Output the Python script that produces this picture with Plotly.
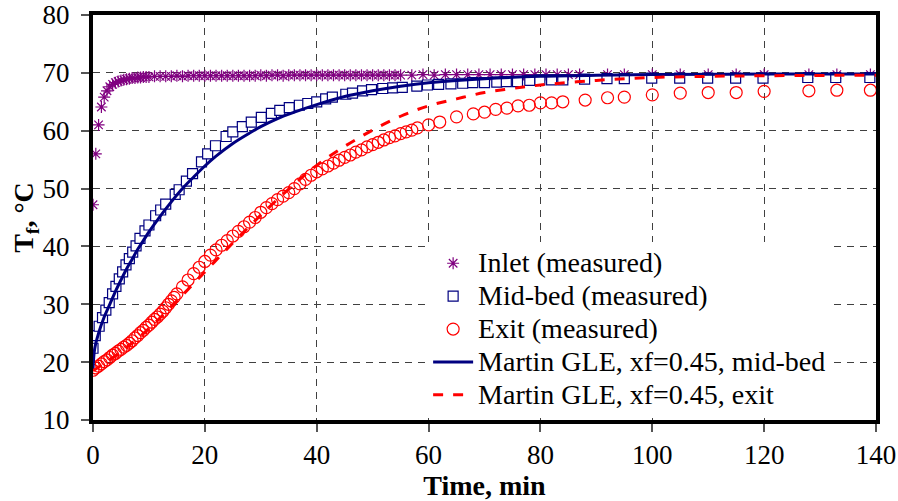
import plotly.graph_objects as go

# ---------------- data ----------------
inlet_t = [0, 0.5, 1, 1.5, 2, 2.5, 3, 3.5, 4, 4.5, 5, 5.5, 6, 6.5, 7, 7.5, 8, 8.5, 9, 9.5,
           10, 11, 12, 13, 14, 15, 16, 17, 18, 19, 20, 21, 22, 23, 24, 25, 26, 27, 28, 29,
           30, 31, 32, 33, 34, 35, 36, 37, 38, 39, 40, 41, 42, 43, 44, 45, 46, 47, 48, 49,
           50, 51, 52, 53, 54, 55, 57, 59, 61, 63, 65, 67, 69, 71, 73, 75, 77, 79, 81, 83,
           85, 87, 92, 95, 100, 105, 110, 115, 120, 128, 133, 139]
inlet_T = [47.2, 56.0, 61.0, 64.1, 65.8, 66.9, 67.6, 68.0, 68.3, 68.5, 68.7, 68.8, 68.9, 69.0, 69.1, 69.1, 69.2, 69.2, 69.3, 69.3,
           69.3, 69.4, 69.4, 69.4, 69.4, 69.5, 69.4, 69.5, 69.5, 69.5, 69.5, 69.5, 69.5, 69.5, 69.5, 69.5, 69.5, 69.5, 69.5, 69.5,
           69.6, 69.5, 69.6, 69.6, 69.5, 69.6, 69.6, 69.6, 69.6, 69.6, 69.6, 69.6, 69.6, 69.6, 69.6, 69.6, 69.6, 69.6, 69.6, 69.6,
           69.6, 69.6, 69.6, 69.6, 69.6, 69.6, 69.6, 69.7, 69.6, 69.7, 69.7, 69.7, 69.7, 69.7, 69.7, 69.7, 69.7, 69.7, 69.7, 69.7,
           69.7, 69.7, 69.7, 69.7, 69.7, 69.7, 69.7, 69.7, 69.7, 69.7, 69.7, 69.7]

mid_t = [0, 0.4, 1.1, 1.7, 2.3, 2.9, 3.5, 4.1, 4.7, 5.3, 5.9, 6.5, 7.1, 7.7, 8.4, 9.3, 10, 11.2, 12.1, 13,
         14.7, 15.4, 16.7, 17.8, 19.4, 20.5, 21.9, 23.8, 25, 26.7, 28.3, 30.1, 31.9, 33.4, 35.1, 36.9, 38.4, 40, 41.6, 42.8,
         45.2, 46.4, 48.2, 49.8, 51.8, 53.6, 55.3, 57.9, 59.8, 61.8, 64, 66.1, 67.9, 70, 72.2, 73.9, 75.9, 78.1, 79.9, 82,
         84, 87.9, 91.9, 95, 99.9, 104.9, 109.9, 114.9, 119.8, 127.8, 132.8, 138.9]
mid_T = [22.4, 24.6, 26.2, 27.7, 29.0, 30.3, 31.8, 33.1, 34.4, 35.6, 36.8, 37.9, 39.0, 40.1, 41.4, 42.7, 43.7, 45.3, 46.3, 47.3,
         49.0, 49.8, 51.3, 52.6, 54.6, 56.0, 57.4, 59.0, 59.8, 60.7, 61.5, 62.3, 63.0, 63.5, 64.0, 64.4, 64.7, 65.0, 65.5, 65.8,
         66.3, 66.5, 66.9, 67.1, 67.3, 67.4, 67.5, 67.7, 67.9, 68.0, 68.1, 68.2, 68.3, 68.3, 68.4, 68.5, 68.5, 68.7, 68.8, 68.8,
         68.8, 68.9, 69.0, 69.0, 69.1, 69.1, 69.1, 69.1, 69.1, 69.2, 69.2, 69.2]

exit_t = [0, 0.5, 1, 1.5, 2, 2.5, 3, 3.5, 4, 4.5, 5, 5.5, 6, 6.5, 7, 7.5, 8, 8.5, 9, 9.5,
          10, 10.5, 11, 11.5, 12, 12.5, 13, 13.5, 14, 14.5, 15, 16, 17, 18, 19, 20, 21, 22, 23, 24,
          25, 26, 27, 28, 29, 30, 31, 32, 33, 34, 35, 36, 37, 38, 39, 40, 41, 42, 43, 44,
          45, 46, 47, 48, 49, 50, 51, 52, 53, 54, 55, 56, 57, 58, 60, 62, 65, 68, 70, 72,
          74, 76, 78, 80, 82, 84, 88, 92, 95, 100, 105, 110, 115, 120, 128, 133, 139]
exit_T = [18.6, 19.0, 19.3, 19.7, 20.1, 20.4, 20.8, 21.2, 21.5, 21.9, 22.2, 22.6, 22.9, 23.3, 23.7, 24.2, 24.6, 25.1, 25.5, 26.0,
          26.4, 26.9, 27.4, 27.8, 28.3, 28.8, 29.4, 30.0, 30.6, 31.2, 31.8, 33.0, 34.2, 35.3, 36.4, 37.4, 38.5, 39.4, 40.2, 41.0,
          41.8, 42.6, 43.4, 44.2, 45.0, 45.9, 46.7, 47.4, 48.1, 48.7, 49.3, 50.0, 50.8, 51.6, 52.3, 52.9, 53.4, 53.9, 54.4, 54.9,
          55.4, 55.8, 56.3, 56.7, 57.2, 57.6, 58.0, 58.4, 58.8, 59.1, 59.5, 59.8, 60.1, 60.5, 61.0, 61.5, 62.4, 62.9, 63.2, 63.7,
          63.9, 64.3, 64.4, 64.8, 64.8, 65.0, 65.3, 65.7, 65.8, 66.2, 66.5, 66.6, 66.6, 66.8, 66.9, 67.0, 67.0]

model_mid_t = [0, 0.3, 1, 2, 3, 4, 5, 6, 7, 8, 9, 10, 12, 14, 16, 18, 20, 22, 25, 28,
               30, 33, 36, 40, 45, 50, 55, 60, 70, 80, 90, 100, 120, 140]
model_mid_T = [18.8, 22.3, 25.0, 27.8, 30.0, 32.2, 34.2, 36.1, 37.8, 39.5, 41.0, 42.5, 45.2, 47.7, 50.0, 52.0, 53.9, 55.6, 57.8, 59.6,
               60.7, 62.1, 63.2, 64.5, 65.9, 66.9, 67.7, 68.3, 69.0, 69.4, 69.6, 69.7, 69.8, 69.8]

model_exit_t = [0, 5, 10, 15, 20, 25, 30, 35, 40, 45, 50, 55, 60, 65, 70, 75, 80, 90, 100, 110, 120, 140]
model_exit_T = [18.5, 21.8, 25.8, 30.6, 35.6, 40.6, 45.4, 49.9, 54.0, 57.3, 60.1, 62.5, 64.3, 65.5, 66.6, 67.3, 67.9, 68.7, 69.2, 69.4, 69.5, 69.6]

names = ["Inlet (measured)", "Mid-bed (measured)", "Exit (measured)",
         "Martin GLE, xf=0.45, mid-bed", "Martin GLE, xf=0.45, exit"]

FONT = "Liberation Serif"
PURPLE = "#800080"
NAVY = "#000080"
RED = "#FF0000"


def leg(s):
    return '<span style="font-size:28px">' + s + '</span>'


fig = go.Figure()
fig.add_trace(go.Scatter(x=inlet_t, y=inlet_T, mode="markers", name=leg(names[0]),
                         marker=dict(symbol="asterisk-open", size=10, color=PURPLE,
                                     line=dict(color=PURPLE, width=1.2))))
fig.add_trace(go.Scatter(x=mid_t, y=mid_T, mode="markers", name=leg(names[1]),
                         marker=dict(symbol="square", size=10, color="white",
                                     line=dict(color=NAVY, width=1.2))))
fig.add_trace(go.Scatter(x=exit_t, y=exit_T, mode="markers", name=leg(names[2]),
                         marker=dict(symbol="circle-open", size=12, color=RED,
                                     line=dict(color=RED, width=1.2))))
fig.add_trace(go.Scatter(x=model_mid_t, y=model_mid_T, mode="lines", name=leg(names[3]),
                         line=dict(color=NAVY, width=3, shape="spline")))
fig.add_trace(go.Scatter(x=model_exit_t, y=model_exit_T, mode="lines", name=leg(names[4]),
                         line=dict(color=RED, width=3, shape="spline", dash="10px,10px")))

axis_common = dict(
    showline=True, mirror=True, linewidth=4, linecolor="black",
    showgrid=True, gridcolor="#404040", gridwidth=1, griddash="7px,6px",
    ticks="outside", ticklen=8, tickwidth=1.5, tickcolor="#555555",
    tickfont=dict(family=FONT, size=27, color="black"),
    zeroline=False, automargin=False, ticklabeloverflow="allow",
)

fig.update_xaxes(range=[0, 140], dtick=20, tick0=0, **axis_common,
                 title=dict(text="<b>Time, min</b>", font=dict(family=FONT, size=28, color="black"), standoff=0))
fig.update_yaxes(range=[10, 80], dtick=10, tick0=10, **axis_common,
                 ticklabelstandoff=6,
                 title=dict(text="<b>T<sub>f</sub>, °C</b>", font=dict(family=FONT, size=28, color="black"), standoff=0))

fig.update_layout(
    width=898, height=501,
    margin=dict(l=93, r=22, t=15, b=81),
    paper_bgcolor="white", plot_bgcolor="white",
    showlegend=True,
    legend=dict(x=0.428, y=0.44, xanchor="left", yanchor="top",
                bgcolor="white", borderwidth=0, itemwidth=40,
                font=dict(family=FONT, size=23, color="black")),
)

# remove the browser's default 8px page margin so the figure fills the window exactly
fig.write_html("out.html", config={"displayModeBar": False},
               post_script="document.body.style.margin='0';")
